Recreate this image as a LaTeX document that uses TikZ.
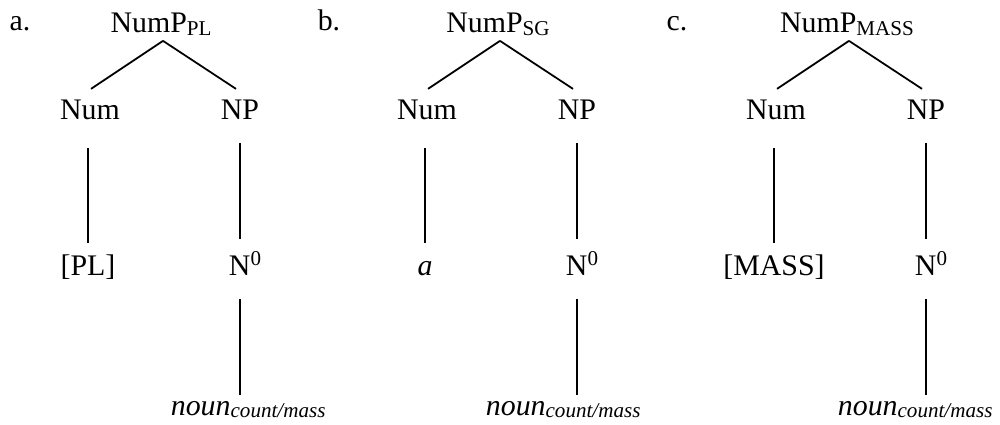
\documentclass[tikz,border=0pt]{standalone}
\usepackage{fontspec}
\setmainfont{Liberation Serif}
\usetikzlibrary{calc}
\newcommand\lsub[1]{\raisebox{-1.5pt}{\fontsize{12}{14}\selectfont #1}}
\newcommand\lsup[1]{\raisebox{6pt}{\fontsize{12}{14}\selectfont #1}}
\begin{document}
\begin{tikzpicture}[x=0.02cm, y=-0.02cm, line width=1pt,
    every node/.style={inner sep=0pt, anchor=base, text depth=0pt, font=\fontsize{17}{20}\selectfont}]
    \useasboundingbox (0, 0) rectangle (1000, 425);
    \foreach \tr/\off/\lx/\nx/\sg/\lf in {a/0/20/170/PL/[PL], b/337/329/485/SG/\textit{a}, c/686/677/837/MASS/[MASS]}
    {
        \node (lab\tr) at (\lx, 31) {\tr.};
        \node (root\tr) at (\off+161, 33) {NumP\lsub{\sg}};
        \node (num\tr) at (\off+90, 120) {Num};
        \node (np\tr) at (\off+240, 120) {NP};
        \node (leaf\tr) at (\off+88, 276) {\lf};
        \node (nzero\tr) at (\off+245, 276) {N\lsup{0}};
        \node[anchor=base west] (noun\tr) at (\nx, 415) {\textit{noun}\lsub{\textit{count/mass}}};

        \draw ([shift={(2,7)}]root\tr.south) -- ([shift={(1,-32)}]num\tr.south);
        \draw ([shift={(2,7)}]root\tr.south) -- ([shift={(-4,-32)}]np\tr.south);
        \draw ([shift={(-2,27)}]num\tr.south) -- ([shift={(0,-34)}]leaf\tr.south);
        \draw ([shift={(0,22)}]np\tr.south) -- ([shift={(-5,-38)}]nzero\tr.south);
        \draw ([shift={(-5,22)}]nzero\tr.south) -- ($(nzero\tr.south |- noun\tr.base)+(-5,-20)$);
    }
\end{tikzpicture}
\end{document}
